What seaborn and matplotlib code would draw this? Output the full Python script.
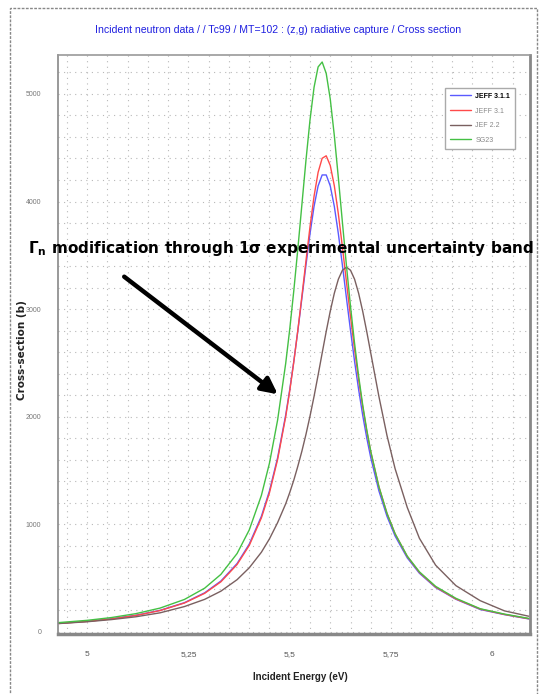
import numpy as np
import pandas as pd
import matplotlib
matplotlib.use("Agg")
import matplotlib.pyplot as plt
import seaborn as sns
from matplotlib.patches import Rectangle

# ---- data ----
energy = [4.93, 5.00, 5.06, 5.12, 5.18, 5.24, 5.29, 5.33, 5.37, 5.40, 5.43, 5.45,
          5.47, 5.49, 5.50, 5.51, 5.52, 5.53, 5.54, 5.55, 5.56, 5.57, 5.58, 5.59,
          5.60, 5.61, 5.62, 5.63, 5.64, 5.65, 5.66, 5.67, 5.68, 5.69, 5.70, 5.72,
          5.74, 5.76, 5.79, 5.82, 5.86, 5.91, 5.97, 6.03, 6.09]

jeff311 = [79, 98, 122, 154, 200, 271, 363, 472, 635, 815, 1074, 1311,
           1618, 2015, 2252, 2514, 2800, 3102, 3408, 3700, 3955, 4145, 4247, 4247,
           4145, 3955, 3700, 3408, 3102, 2800, 2514, 2252, 2015, 1804, 1618, 1311,
           1074, 891, 688, 545, 412, 303, 208, 160, 120]
jeff31 = [78, 97, 120, 152, 198, 268, 358, 465, 626, 803, 1059, 1294,
          1601, 2000, 2240, 2509, 2804, 3121, 3447, 3765, 4049, 4271, 4402, 4425,
          4335, 4147, 3884, 3576, 3251, 2929, 2624, 2344, 2093, 1869, 1672, 1349,
          1101, 911, 701, 553, 417, 306, 212, 162, 122]
jef22 = [77, 94, 114, 140, 177, 235, 302, 378, 485, 595, 740, 865,
         1015, 1190, 1295, 1410, 1540, 1680, 1835, 2005, 2189, 2387, 2591, 2792,
         2981, 3147, 3278, 3361, 3390, 3361, 3278, 3147, 2981, 2792, 2591, 2189,
         1825, 1517, 1157, 870, 620, 430, 290, 195, 145]
sg23 = [86, 107, 133, 169, 221, 301, 406, 534, 728, 947, 1268, 1569,
        1968, 2495, 2814, 3171, 3561, 3972, 4382, 4758, 5062, 5251, 5297, 5191,
        4952, 4614, 4219, 3806, 3402, 3024, 2682, 2378, 2111, 1879, 1677, 1350,
        1102, 912, 704, 558, 423, 312, 215, 165, 125]

series_names = ["JEFF 3.1.1", "JEFF 3.1", "JEF 2.2", "SG23"]
series_colors = ["#5a5aff", "#ff4a4a", "#7a6060", "#44c044"]

x_ticks = [5.0, 5.25, 5.5, 5.75, 6.0]
x_tick_labels = ["5", "5,25", "5,5", "5,75", "6"]
y_ticks = [0, 1000, 2000, 3000, 4000, 5000]
y_tick_labels = ["0", "1000", "2000", "3000", "4000", "5000"]

title = "Incident neutron data / / Tc99 / MT=102 : (z,g) radiative capture / Cross section"
xlabel = "Incident Energy (eV)"
ylabel = "Cross-section (b)"
note = r"$\mathbf{\Gamma_n}$ modification through 1$\mathbf{\sigma}$ experimental uncertainty band"

df = pd.DataFrame({
    "energy": energy * 4,
    "xs": jeff311 + jeff31 + jef22 + sg23,
    "lib": sum([[n] * len(energy) for n in series_names], []),
})

sns.set_theme(style="white")
plt.rcParams["font.family"] = ["Liberation Sans Narrow", "Liberation Sans", "DejaVu Sans"]

fig = plt.figure(figsize=(5.4, 6.94), dpi=100)
ax = fig.add_axes([58 / 540, 60 / 694, 472 / 540, 579 / 694])

sns.lineplot(data=df, x="energy", y="xs", hue="lib", hue_order=series_names,
             palette=series_colors, linewidth=1.0, ax=ax, legend=True)

ax.set_xlim(4.928, 6.093)
ax.set_ylim(-20, 5362)
ax.set_xticks(x_ticks)
ax.set_xticklabels(x_tick_labels, fontsize=6, color="#555555")
ax.set_yticks(y_ticks)
ax.set_yticklabels(y_tick_labels, fontsize=5, color="#777777")
ax.set_xticks(np.arange(4.95, 6.09, 0.05), minor=True)
ax.set_yticks(np.arange(0, 5400, 200), minor=True)
ax.tick_params(axis="both", which="major", length=4, width=0.6, color="#777777", direction="out", pad=8)
ax.tick_params(axis="both", which="minor", length=2, width=0.5, color="#999999", direction="out")
ax.grid(which="both", linestyle=(0, (1, 4)), color="#b8b8b8", linewidth=0.8)
ax.set_xlabel("")
ax.set_ylabel("")

for side in ["left", "bottom", "right"]:
    ax.spines[side].set_color("#888888")
    ax.spines[side].set_linewidth(1.2)
ax.spines["bottom"].set_linewidth(2.5)
ax.spines["right"].set_linewidth(2.0)
ax.spines["top"].set_color("#999999")
ax.spines["top"].set_linestyle((0, (3, 1)))
ax.spines["top"].set_linewidth(1.2)

leg = ax.legend(loc="upper right", bbox_to_anchor=(0.968, 0.943), borderaxespad=0,
                fontsize=5, frameon=True, fancybox=False, framealpha=1,
                edgecolor="#aaaaaa", handlelength=3.0, labelspacing=1.1,
                borderpad=0.7, handletextpad=0.6)
for i, t in enumerate(leg.get_texts()):
    if i == 0:
        t.set_color("black")
        t.set_fontweight("bold")
    else:
        t.set_color("#888888")
for h in leg.get_lines():
    h.set_linewidth(1.0)

# figure decorations
fig.patches.append(Rectangle((10 / 540, -0.01), 527 / 540, 1 - 8 / 694 + 0.01,
                             transform=fig.transFigure, fill=False,
                             edgecolor="#888888", linestyle=(0, (2, 1)), linewidth=1.0))
fig.text(0.515, 1 - 30 / 694, title, ha="center", va="center", fontsize=7.6,
         color="#2020e0")
fig.text(22 / 540, 1 - 350 / 694, ylabel, ha="center", va="center", rotation=90,
         fontsize=7.5, fontweight="bold", color="#222222", family=["DejaVu Sans"])
fig.text(300 / 540, 1 - 677 / 694, xlabel, ha="center", va="center", fontsize=7,
         fontweight="bold", color="#222222")
fig.text(28 / 540, 1 - 248 / 694, note, ha="left", va="center", fontsize=11,
         fontweight="bold", color="black", family=["DejaVu Sans"])
ax.annotate("", xy=(280, 694 - 396), xycoords="figure pixels",
            xytext=(122, 694 - 275), textcoords="figure pixels",
            arrowprops=dict(arrowstyle="-|>,head_length=0.8,head_width=0.4",
                            color="black", linewidth=3.2))

fig.savefig("out.png", dpi=100)
